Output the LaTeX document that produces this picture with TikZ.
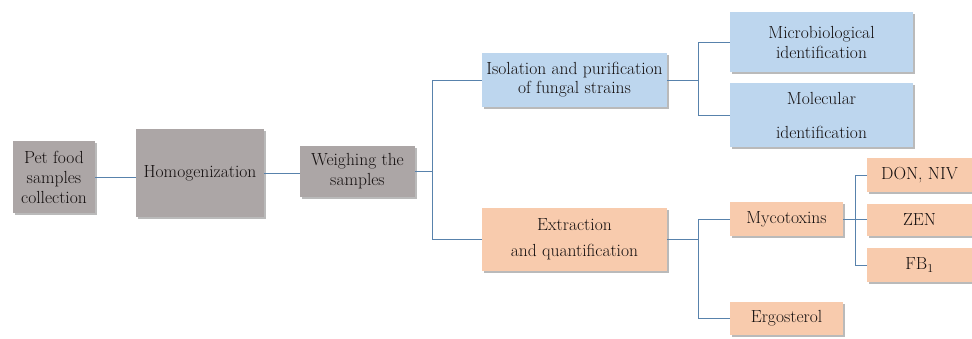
\documentclass[tikz,border=0pt]{standalone}
\usetikzlibrary{shadows}
\definecolor{boxgray}{RGB}{172,166,166}
\definecolor{boxblue}{RGB}{189,214,238}
\definecolor{boxorange}{RGB}{248,203,173}
\definecolor{linkcol}{RGB}{88,130,172}
\definecolor{txt}{RGB}{20,15,15}
\tikzset{
  box/.style={draw=none, align=center, inner sep=1pt, text=txt,
    font=\fontsize{17.5}{20}\selectfont,
    drop shadow={shadow xshift=1.5pt, shadow yshift=-2pt, opacity=0.45, fill=black!60}},
  graybox/.style={box, fill=boxgray},
  bluebox/.style={box, fill=boxblue},
  orangebox/.style={box, fill=boxorange},
  link/.style={draw=linkcol, line width=0.8pt}
}
\begin{document}
\begin{tikzpicture}[x=1pt,y=-1pt]
\useasboundingbox (0,0) rectangle (972,338);
% nodes
\node[graybox, minimum width=82pt, minimum height=72pt] (pet) at (54,177) {Pet food\\samples\\collection};
\node[graybox, minimum width=128pt, minimum height=88pt] (hom) at (200,173) {Homogenization};
\node[graybox, minimum width=115pt, minimum height=51pt] (wei) at (357.5,171.5) {Weighing the\\samples};
\node[bluebox, minimum width=185pt, minimum height=54pt, font=\fontsize{17.5}{19}\selectfont] (iso) at (574.5,80) {Isolation and purification\\of fungal strains};
\node[orangebox, minimum width=185pt, minimum height=63pt, font=\fontsize{17.5}{26}\selectfont] (ext) at (574.5,239.5) {Extraction\\and quantification};
\node[bluebox, minimum width=183pt, minimum height=60pt] (mic) at (821.5,42) {Microbiological\\identification};
\node[bluebox, minimum width=183pt, minimum height=64pt, font=\fontsize{17.5}{34}\selectfont] (mol) at (821.5,115) {Molecular\\identification};
\node[orangebox, minimum width=113pt, minimum height=34pt] (myc) at (786.5,219) {Mycotoxins};
\node[orangebox, minimum width=113pt, minimum height=33pt] (erg) at (786.5,318.5) {Ergosterol};
\node[orangebox, minimum width=105pt, minimum height=34pt] (don) at (919.5,175) {DON, NIV};
\node[orangebox, minimum width=105pt, minimum height=32pt] (zen) at (919.5,220) {ZEN};
\node[orangebox, minimum width=105pt, minimum height=34pt] (fb) at (919.5,265) {FB$_1$};
% connectors
\draw[link] (pet.east) -- (pet.east -| hom.west);
\draw[link] (hom.east) -- (hom.east -| wei.west);
\draw[link] (wei.east) -- ++(17,0) |- (iso.west);
\draw[link] (wei.east) -- ++(17,0) |- (ext.west);
\draw[link] (iso.east) -- ++(31,0) |- (mic.west);
\draw[link] (iso.east) -- ++(31,0) |- (mol.west);
\draw[link] (ext.east) -- ++(31,0) |- (myc.west);
\draw[link] (ext.east) -- ++(31,0) |- (erg.west);
\draw[link] (myc.east) -- ++(12,0) |- (don.west);
\draw[link] (myc.east) -- (myc.east -| zen.west);
\draw[link] (myc.east) -- ++(12,0) |- (fb.west);
\end{tikzpicture}
\end{document}
